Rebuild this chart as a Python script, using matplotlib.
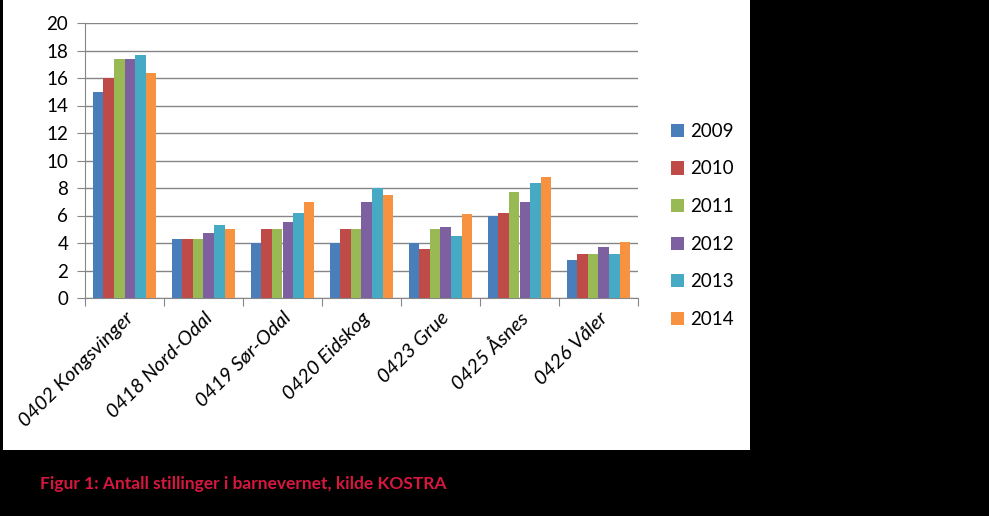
import numpy as np
import matplotlib
matplotlib.use('Agg')
import matplotlib.pyplot as plt
from matplotlib.patches import Rectangle

kommuner = ['0402 Kongsvinger', '0418 Nord-Odal', '0419 Sør-Odal', '0420 Eidskog',
            '0423 Grue', '0425 Åsnes', '0426 Våler']
years = ['2009', '2010', '2011', '2012', '2013', '2014']
v2009 = [15.0, 4.3, 4.0, 4.0, 4.0, 6.0, 2.8]
v2010 = [16.0, 4.3, 5.0, 5.0, 3.6, 6.2, 3.2]
v2011 = [17.4, 4.3, 5.0, 5.0, 5.0, 7.7, 3.2]
v2012 = [17.4, 4.7, 5.5, 7.0, 5.2, 7.0, 3.7]
v2013 = [17.7, 5.3, 6.2, 8.0, 4.5, 8.4, 3.2]
v2014 = [16.4, 5.0, 7.0, 7.5, 6.1, 8.8, 4.1]
colors = ['#4A7EBB', '#BE4B48', '#98B954', '#7D60A0', '#46AAC5', '#F69240']

plt.rcParams['font.family'] = ['Lato', 'DejaVu Sans']

fig = plt.figure(figsize=(9.89, 5.16), dpi=100)
fig.patch.set_facecolor('black')
# white chart area on black page
fig.add_artist(Rectangle((3 / 989, 1 - 450 / 516), 747 / 989, 450 / 516,
                         transform=fig.transFigure, facecolor='white',
                         edgecolor='none', zorder=-5))

ax = fig.add_axes([85 / 989, 1 - 298 / 516, 553 / 989, 275 / 516])
ax.set_facecolor('none')

series = [v2009, v2010, v2011, v2012, v2013, v2014]
x = np.arange(len(kommuner))
w = 0.135
for i, vals in enumerate(series):
    ax.bar(x + (i - 2.5) * w, vals, w, color=colors[i], label=years[i], zorder=3)

ax.set_xlim(-0.5, len(kommuner) - 0.5)
ax.set_ylim(0, 20)
ax.set_yticks(range(0, 21, 2))
ax.yaxis.grid(True, color='#868686', linewidth=1, zorder=0)
ax.set_axisbelow(True)
ax.set_xticks(np.arange(-0.5, len(kommuner), 1))
ax.set_xticklabels([])
ax.set_xticks(x, minor=True)
ax.set_xticklabels(kommuner, minor=True, rotation=45, ha='right', rotation_mode='anchor',
                   fontsize=14.5, style='italic')
ax.tick_params(axis='x', which='minor', length=0, pad=8)
ax.tick_params(axis='x', which='major', length=6, color='#868686', direction='out')
ax.tick_params(axis='y', length=6, color='#868686', labelsize=13.5, pad=6)
for s in ['top', 'right']:
    ax.spines[s].set_visible(False)
ax.spines['left'].set_color('#868686')
ax.spines['bottom'].set_color('#868686')

fig.legend(loc='upper left', bbox_to_anchor=(654 / 989, 1 - 106 / 516), frameon=False,
           fontsize=13.5, handlelength=0.7, handleheight=0.7, handletextpad=0.3,
           labelspacing=1.1)

fig.text(40 / 989, 1 - 484 / 516, 'Figur 1: Antall stillinger i barnevernet, kilde KOSTRA',
         color='#D6173F', fontsize=12.5, fontweight='bold', va='center')

fig.savefig('out.png', dpi=100, facecolor=fig.get_facecolor())
